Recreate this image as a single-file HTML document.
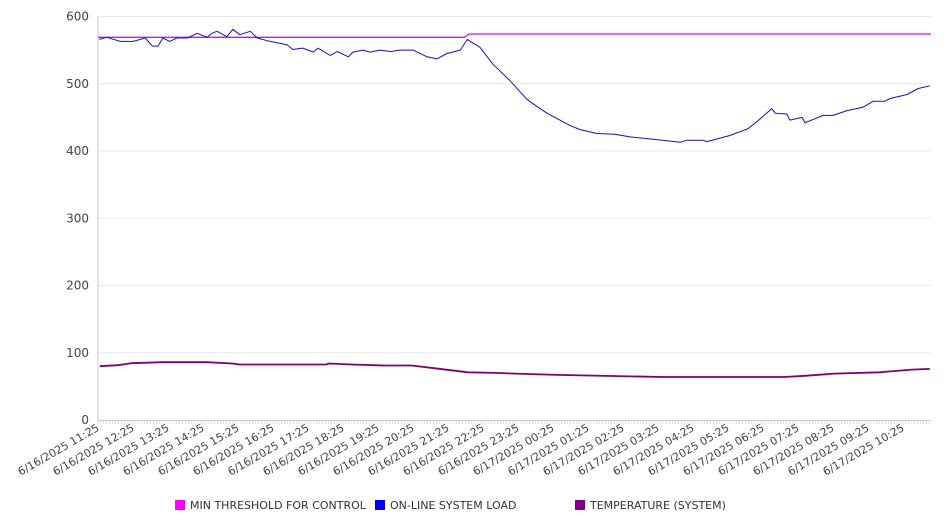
<!DOCTYPE html>
<html><head><meta charset="utf-8"><style>
body{margin:0;background:#fff;}
svg{display:block;font-family:"DejaVu Sans","Liberation Sans",sans-serif;}
</style></head><body>
<svg id="chart" width="946" height="526" viewBox="0 0 946 526">
<g id="grid"></g>
<g id="yaxis"></g>
<g id="xaxis"></g>
<g id="series"></g>
<g font-size="11" fill="#333">
 <g><rect x="175" y="500" width="10" height="10" fill="#ff00ff"/><text x="190" y="509">MIN THRESHOLD FOR CONTROL</text></g>
 <g><rect x="375" y="500" width="10" height="10" fill="#0000ff"/><text x="390" y="509">ON-LINE SYSTEM LOAD</text></g>
 <g><rect x="575" y="500" width="10" height="10" fill="#800080"/><text x="590" y="509">TEMPERATURE (SYSTEM)</text></g>
</g>
</svg>
<script>
const tickLabels=["6/16/2025 11:25","6/16/2025 12:25","6/16/2025 13:25","6/16/2025 14:25","6/16/2025 15:25","6/16/2025 16:25","6/16/2025 17:25","6/16/2025 18:25","6/16/2025 19:25","6/16/2025 20:25","6/16/2025 21:25","6/16/2025 22:25","6/16/2025 23:25","6/17/2025 00:25","6/17/2025 01:25","6/17/2025 02:25","6/17/2025 03:25","6/17/2025 04:25","6/17/2025 05:25","6/17/2025 06:25","6/17/2025 07:25","6/17/2025 08:25","6/17/2025 09:25","6/17/2025 10:25"];
const yTicks=[0,100,200,300,400,500,600];
const loadMinutes=[2,15,38,60,81,93,103,111,123,135,153,170,187,195,204,221,231,243,261,273,290,307,324,334,351,369,377,398,410,429,437,454,466,483,501,518,540,564,581,598,621,633,655,677,706,735,741,770,809,826,855,886,912,958,998,1010,1037,1044,1083,1114,1130,1155,1161,1181,1186,1207,1212,1243,1260,1284,1311,1329,1349,1358,1387,1406,1426];
const loadValues=[566,569,563,563,568,556,556,568,563,568,568,575,569,575,578,570,581,573,578,568,564,561,558,551,553,547,553,542,548,540,547,550,547,550,548,550,550,540,537,545,550,566,554,529,505,477,473,456,438,432,426,425,421,417,413,416,416,414,423,433,444,463,456,455,446,450,442,453,453,460,465,474,474,478,484,493,497];
const tempMinutes=[3,34,58,110,187,230,243,391,396,434,490,538,576,634,682,729,787,881,967,1176,1215,1262,1339,1395,1426];
const tempValues=[80,81.5,84.5,86,86,84,82.5,82.5,84,82.5,81,81,77,71,70,68.5,67,65.5,64,64,65.8,69,71,75,76];
const thrMinutes=[0,628,636,1428];
const thrValues=[569,569,574,574];

const NS="http://www.w3.org/2000/svg";
const X0=98,X1=931,Y0=420,Y1=16.5,TMAX=1428,VMAX=600;
const xs=m=>X0+(m/TMAX)*(X1-X0);
const ys=v=>Y0-(v/VMAX)*(Y0-Y1);
function mk(tag,attrs,parent){const e=document.createElementNS(NS,tag);for(const k in attrs)e.setAttribute(k,attrs[k]);parent.appendChild(e);return e;}
const grid=document.getElementById('grid'),yaxis=document.getElementById('yaxis'),xaxis=document.getElementById('xaxis'),series=document.getElementById('series');
yTicks.forEach(v=>{
 if(v>0){const l=mk('line',{x1:X0,x2:X1,y1:ys(v),y2:ys(v),stroke:'#e8e8e8','stroke-width':1},grid);
 
 }
 const t=mk('text',{x:89,y:ys(v)+4,'text-anchor':'end','font-size':12,fill:'#444'},yaxis);
 
 
 t.textContent=v;
});
const ax=mk('line',{x1:X0,x2:X0,y1:Y1,y2:Y0,stroke:'#ccc','stroke-width':1},yaxis);


const bx=mk('line',{x1:X0,x2:X1,y1:Y0+0.5,y2:Y0+0.5,stroke:'#ccc','stroke-width':1},xaxis);


for(let m=0;m<=TMAX;m+=5){const tk=mk('line',{x1:xs(m),x2:xs(m),y1:Y0,y2:Y0+4,stroke:'#d0d0d0','stroke-width':0.7},xaxis);
 
 }
tickLabels.forEach((s,i)=>{const x=xs(i*60);
 const t=mk('text',{x:x+2,y:Y0+10,'text-anchor':'end','font-size':11,fill:'#444',transform:`rotate(-30 ${x+2} ${Y0+10})`},xaxis);
 
 
 t.textContent=s;});
function line(ms,vs,color,name,w){
 const d=ms.map((m,i)=>(i?'L':'M')+xs(m).toFixed(1)+' '+ys(vs[i]).toFixed(1)).join(' ');
 const p=mk('path',{d:d,fill:'none',stroke:color,'stroke-width':w,'stroke-linejoin':'round'},series);
 
 
}
line(thrMinutes,thrValues,'#d010f0','threshold-line',1.3);
line(loadMinutes,loadValues,'#1010d0','load-line',1);
line(tempMinutes,tempValues,'#800070','temperature-line',1.8);
</script>
</body></html>
